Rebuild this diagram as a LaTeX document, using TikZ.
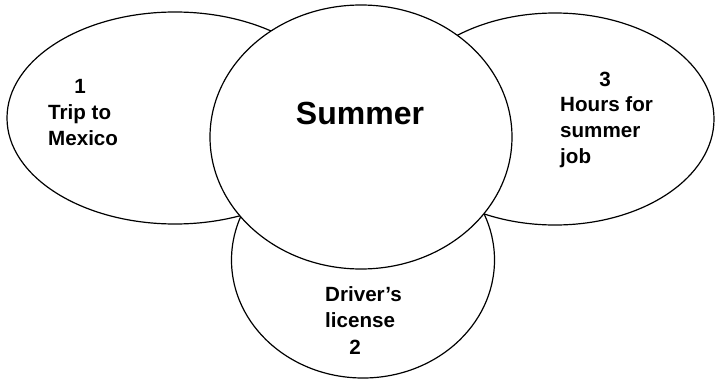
\documentclass[tikz,border=0pt]{standalone}
\usepackage{fontspec}
\setmainfont{Liberation Sans}
\usetikzlibrary{shapes.geometric}
\tikzset{
  blob/.style={ellipse, draw, line width=1.2pt, fill=white, inner sep=0pt},
  lbl/.style={inner sep=0pt, font=\fontsize{20.6}{25}\selectfont\bfseries},
}
\begin{document}
\begin{tikzpicture}[x=1pt,y=-1pt]
\useasboundingbox (0,0) rectangle (715,380);
\node[blob, minimum width=336pt, minimum height=212pt] (left) at (175,118) {};
\node[blob, minimum width=318pt, minimum height=212pt] (right) at (555,119) {};
\node[blob, minimum width=263pt, minimum height=236pt] (bottom) at (363,260) {};
\node[blob, minimum width=302pt, minimum height=264pt] (center) at (361,137) {};
% center label
\node[inner sep=0pt, anchor=base, font=\fontsize{32}{36}\selectfont\bfseries] (summer) at (360,124) {Summer};
% left labels
\node[lbl, anchor=base] (l1) at (80,93) {1};
\node[lbl, anchor=base west] (l2) at (48,119.5) {Trip to};
\node[lbl, anchor=base west] (l3) at (48,145.7) {Mexico};
% right labels
\node[lbl, anchor=base] (r1) at (605,86) {3};
\node[lbl, anchor=base west] (r2) at (560,111) {Hours for};
\node[lbl, anchor=base west] (r3) at (560,137.7) {summer};
\node[lbl, anchor=base west] (r4) at (560,163) {job};
% bottom labels
\node[lbl, anchor=base west] (b1) at (325,301.7) {Driver’s};
\node[lbl, anchor=base west] (b2) at (325,327.7) {license};
\node[lbl, anchor=base] (b3) at (355,354.3) {2};
\end{tikzpicture}
\end{document}
